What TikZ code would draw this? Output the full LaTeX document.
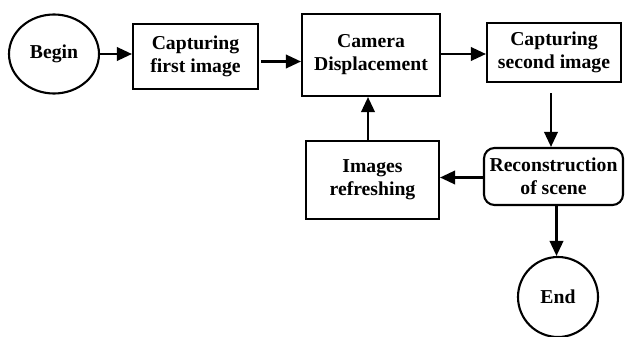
\documentclass[tikz,border=0pt]{standalone}
\usepackage{fontspec}
\setmainfont{Liberation Serif}
\usetikzlibrary{arrows.meta,shapes.geometric}

\tikzset{
  stepbox/.style={draw,line width=1.2pt,align=center,font=\fontsize{11.2}{13}\selectfont\bfseries},
  flow/.style={line width=1.2pt,-{Triangle[length=0.3cm,width=0.27cm]}}
}

\begin{document}
\begin{tikzpicture}
  \useasboundingbox (0,0) rectangle (12.5,6.72);
% Top row
  \node[stepbox,ellipse,minimum width=1.8cm,minimum height=1.58cm,inner sep=0pt] (begin) at (1.08,5.64) {Begin};
  \node[stepbox,rectangle,minimum width=2.5cm,minimum height=1.3cm] (capfirst) at (3.91,5.59) {Capturing\\first image};
  \node[stepbox,rectangle,minimum width=2.76cm,minimum height=1.64cm] (camera) at (7.42,5.62) {Camera\\Displacement};
  \node[stepbox,rectangle,minimum width=2.68cm,minimum height=1.18cm] (capsecond) at (11.08,5.67) {Capturing\\second image};
% Lower row
  \node[stepbox,rectangle,minimum width=2.66cm,minimum height=1.56cm] (refresh) at (7.45,3.12) {Images\\refreshing};
  \node[stepbox,rectangle,rounded corners=6pt,minimum width=2.78cm,minimum height=1.14cm,inner sep=1pt] (recon) at (11.07,3.19) {Reconstruction\\of scene};
  \node[stepbox,circle,minimum size=1.6cm,inner sep=0pt] (end) at (11.16,0.78) {End};
% Arrows
  \draw[flow] (begin.east) -- (begin.east -| capfirst.west);
  \draw[flow] ([yshift=-0.1cm]capfirst.east) ++(0.04,0) coordinate (c1) -- (c1 -| camera.west);
  \draw[flow] ([yshift=0.02cm]camera.east) -- ([yshift=0.02cm]camera.east -| capsecond.west);
  \draw[flow] ([xshift=-0.06cm,yshift=-0.2cm]capsecond.south) coordinate (c2) -- (c2 |- recon.north);
  \draw[flow] ([yshift=-0.02cm]recon.west) -- ([yshift=-0.02cm]recon.west -| refresh.east);
  \draw[flow] ([xshift=-0.09cm]refresh.north) -- ([xshift=-0.09cm]refresh.north |- camera.south);
  \draw[flow] ([xshift=0.06cm]recon.south) -- ([xshift=0.06cm]recon.south |- end.north);
\end{tikzpicture}
\end{document}
